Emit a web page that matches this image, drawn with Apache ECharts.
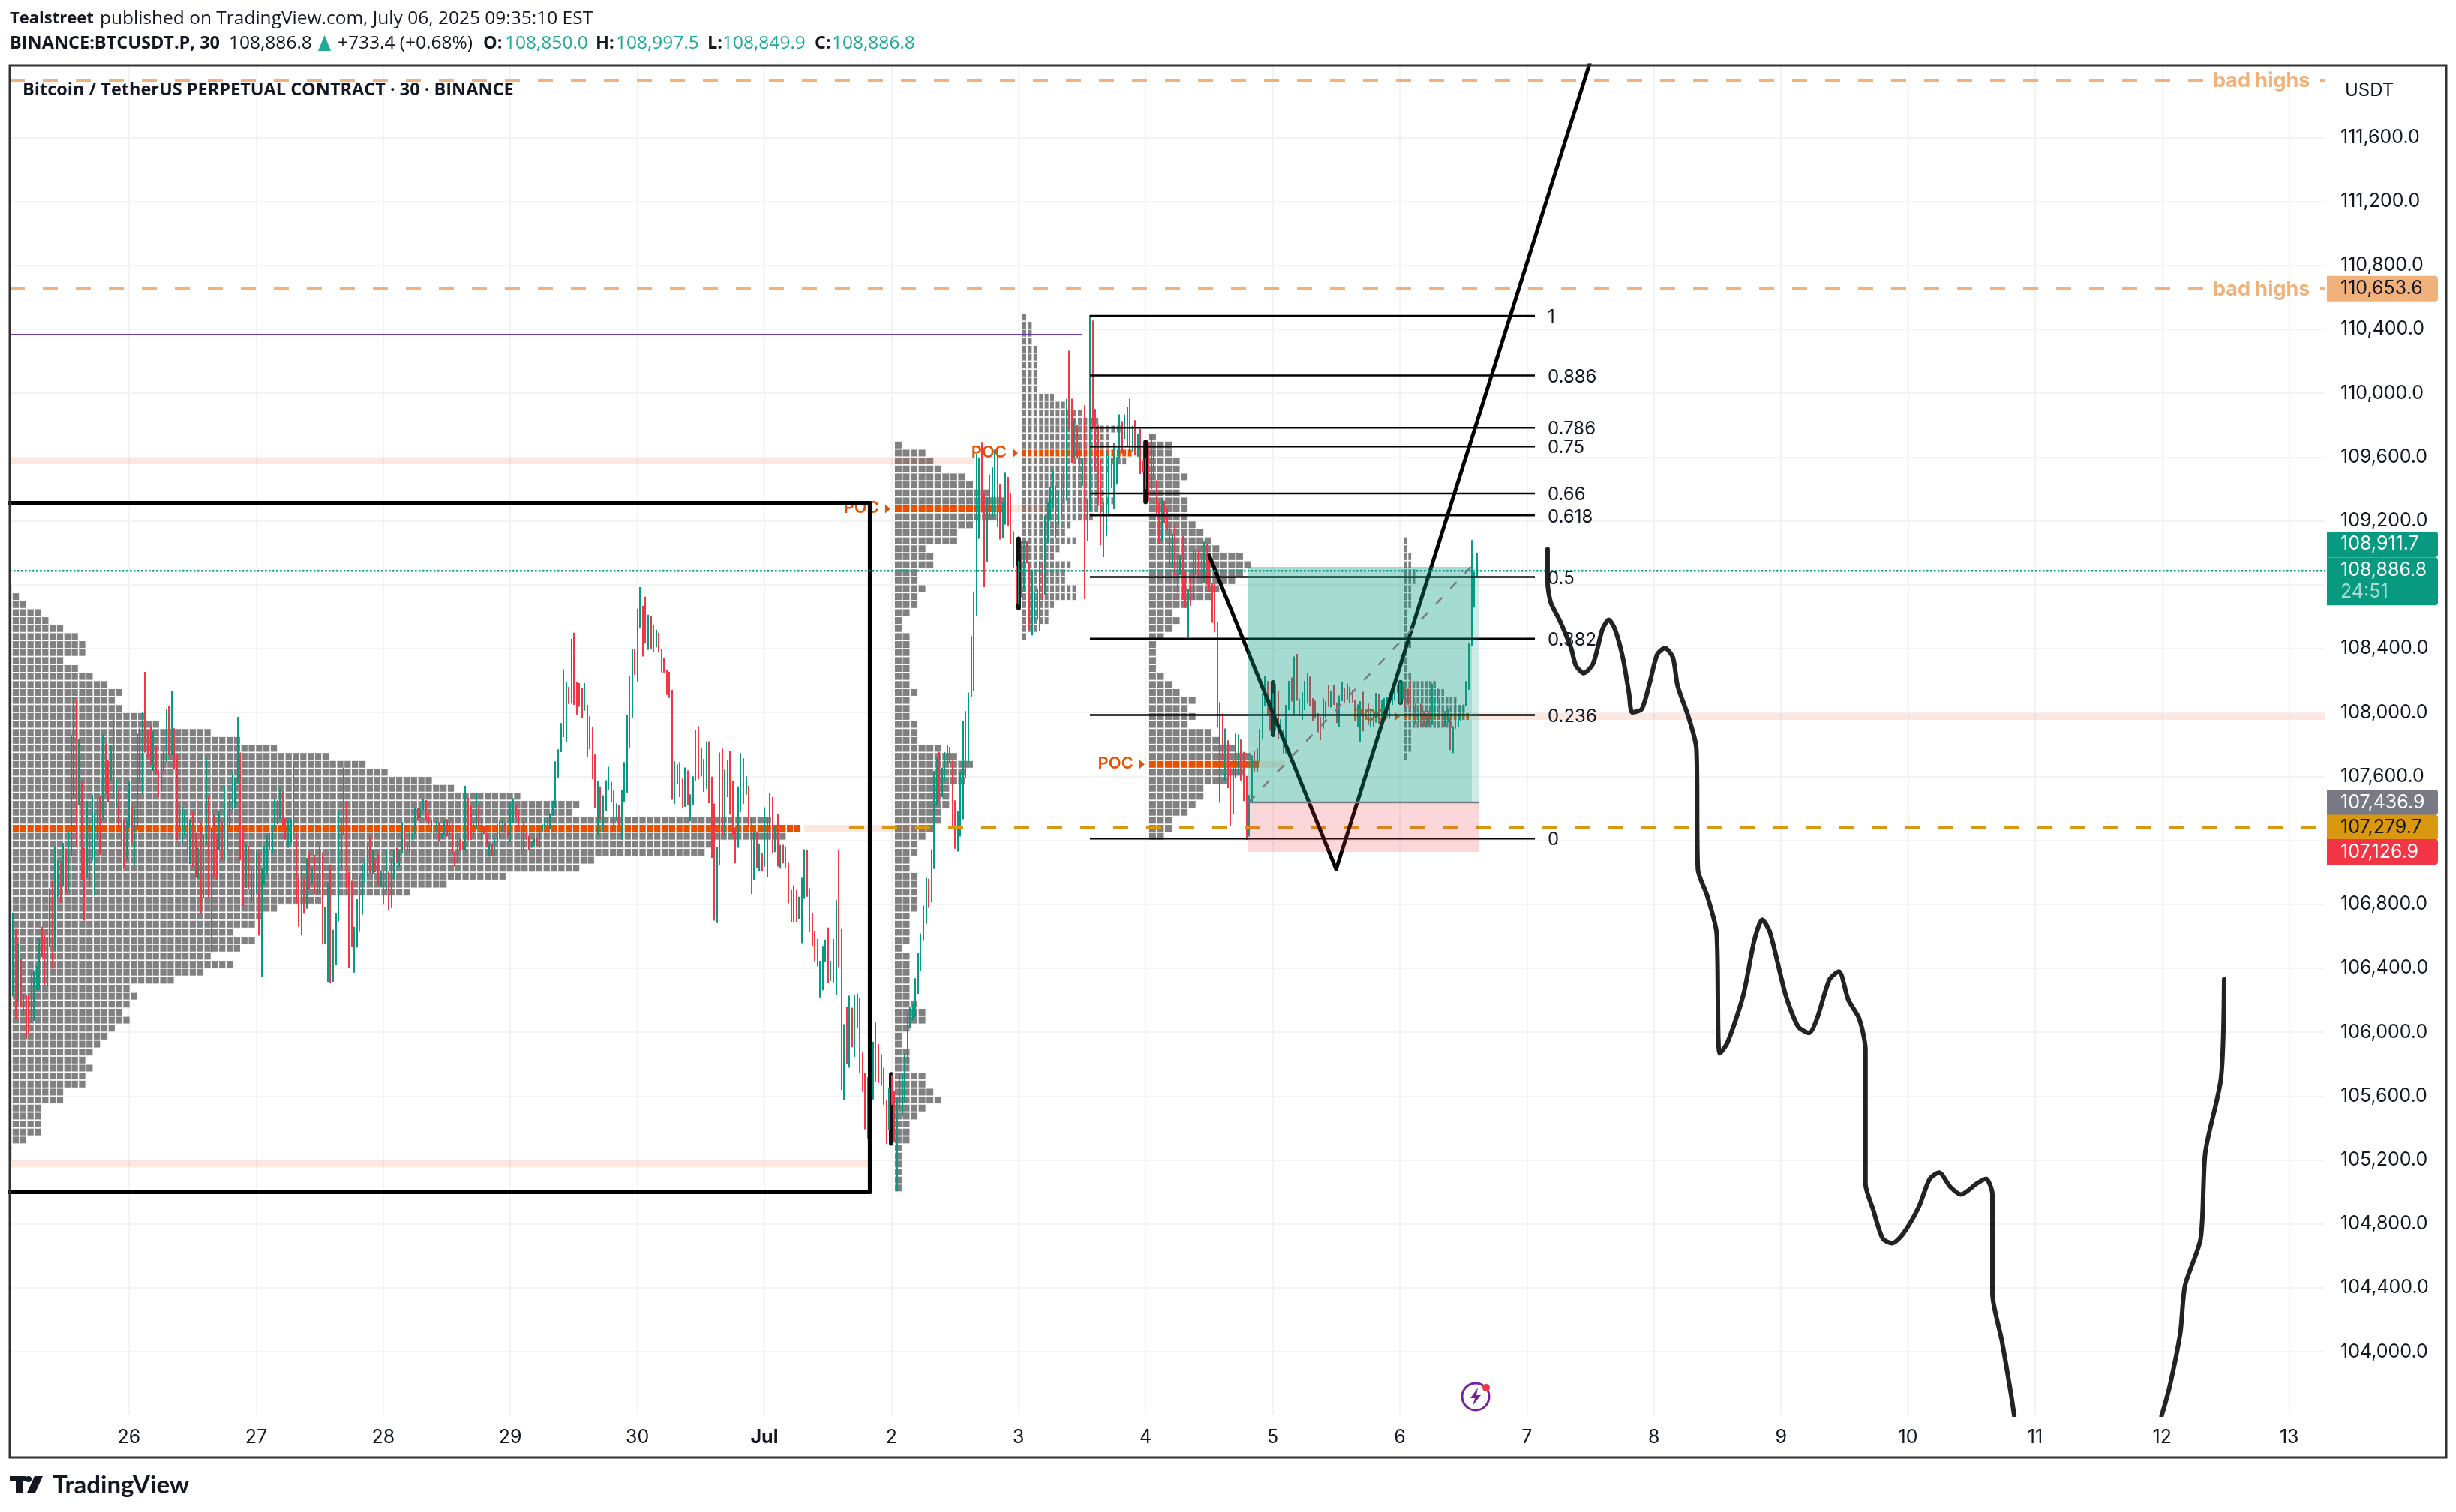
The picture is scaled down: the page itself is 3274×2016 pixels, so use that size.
<!DOCTYPE html>
<html>
<head>
<meta charset="utf-8">
<style>html,body{margin:0;padding:0;background:#fff}#main{width:3274px;height:2016px}</style>
<script src="https://cdn.jsdelivr.net/npm/echarts@6/dist/echarts.min.js"></script>
</head>
<body>
<div id="main"></div>
<script>
// axis ticks (day 31 = Jul 1, 32 = Jul 2 ...)
var dayTicks = [26,27,28,29,30,31,32,33,34,35,36,37,38,39,40,41,42,43];
var dayLabels = ['26','27','28','29','30','Jul','2','3','4','5','6','7','8','9','10','11','12','13'];
var priceTicks = [104000,104400,104800,105200,105600,106000,106400,106800,107200,107600,108000,108400,108800,109200,109600,110000,110400,110800,111200,111600];

// 30 minute bars as [high, low, up]
var candleStart = 25.085;
var candleRows = [
[106748,106226,1],[106651,106085,0],[106553,106198,1],[106462,106160,0],[106235,106108,1],[106235,105958,0],[106235,105995,0],[106376,106061,1],[106384,106071,1],[106415,106263,1],
[106588,106263,1],[106659,106470,0],[106619,106287,0],[106596,106287,1],[106899,106536,1],[106946,106397,0],[107162,106505,1],[107077,106847,1],[107071,106811,0],[107184,106910,1],
[107148,106867,0],[107256,106881,1],[107859,107102,1],[108094,107474,1],[108081,107164,0],[107835,107423,1],[107572,106949,0],[107153,106698,0],[107448,106964,1],[107317,106913,0],
[107485,107074,1],[107372,106858,1],[107463,107200,1],[107476,107109,0],[107862,107328,1],[107804,107498,0],[107699,107438,0],[107796,107573,1],[107965,107459,0],[107579,107399,1],
[107514,107286,0],[107325,107164,0],[107333,107023,0],[107325,107077,1],[107570,107278,1],[107416,107187,0],[107408,107043,1],[107866,107262,1],[107901,107561,1],[108000,107498,1],
[108254,107749,0],[107887,107721,0],[107914,107673,0],[107887,107634,1],[107791,107615,0],[107639,107470,0],[107736,107506,1],[107757,107636,1],[108019,107691,1],[108041,107730,0],
[108136,107733,1],[107901,107642,0],[107736,107200,0],[107419,107239,0],[107411,107176,1],[107388,107234,1],[107346,107121,0],[107333,107051,1],[107380,107032,0],[107247,106965,0],
[107153,106957,1],[107313,106742,0],[107239,106839,1],[107721,107173,1],[107476,106836,0],[107278,106502,1],[107360,106968,0],[107239,106952,0],[107388,107137,1],[107322,107074,0],
[107540,107074,1],[107357,107137,1],[107495,107267,1],[107626,107391,1],[107592,107400,1],[107972,107557,1],[107749,107074,0],[107286,106789,0],[107176,106902,1],[107165,106894,0],
[107015,106820,1],[107004,106811,0],[107134,106867,1],[107129,106604,0],[107023,106343,1],[107165,106920,1],[107234,106988,1],[107244,107137,1],[107297,107118,1],[107459,107278,1],
[107451,107299,0],[107524,107333,1],[107506,107294,0],[107341,107204,0],[107336,107153,1],[107333,107184,1],[107686,107231,1],[107247,106800,0],[106972,106659,0],[107040,106611,1],
[106961,106740,0],[107090,106772,1],[107125,106894,0],
[107030,106925,1],[107109,106863,0],[106996,106863,1],[107165,106863,1],[107125,106549,0],[106784,106553,1],[106936,106315,1],[107048,106310,0],[106640,106315,1],[106742,106423,1],
[107379,106693,1],[107336,107024,0],[107655,107231,1],[107443,106899,0],[107004,106403,0],[106946,106533,0],[106659,106373,1],[106831,106528,1],[106968,106632,1],[107051,106734,1],
[107087,106938,1],[107184,106968,1],[107228,106996,0],[107142,106988,1],[107085,107000,0],[107114,106917,0],[107012,106905,1],[107008,106797,0],[107140,106886,1],[107004,106764,0],
[107082,106776,1],[107140,106957,1],[107153,107059,0],[107137,107032,1],[107313,107121,1],[107270,107137,0],[107184,107137,0],[107266,107126,1],[107247,107200,1],[107399,107239,1],
[107399,107322,0],[107399,107338,1],[107459,107388,1],[107451,107322,0],[107372,107299,0],[107325,107247,0],[107247,107212,0],[107322,107244,1],[107313,107192,0],[107244,107208,1],
[107328,107231,1],[107333,107223,0],[107305,107223,1],[107306,107125,0],[107129,107035,0],[107219,107059,1],[107208,107134,0],[107192,107142,0],[107540,107134,1],[107466,107200,0],
[107416,107204,0],[107318,107231,1],[107493,107266,1],[107419,107294,0],[107322,107200,0],[107289,107239,0],[107247,107156,0],[107184,107098,1],[107181,107102,0],[107212,107102,1],
[107302,107176,1],[107322,107208,0],[107322,107247,1],[107306,107247,0],[107255,107223,0],[107438,107192,1],[107463,107306,1],[107424,107346,0],[107377,107250,0],[107291,107110,0],
[107318,107140,1],[107250,107204,0],[107228,107137,0],[107192,107153,1],[107219,107168,1],[107219,107165,0],[107266,107153,1],[107299,107255,1],[107336,107275,1],[107344,107278,0],
[107369,107267,1],[107448,107354,1],[107694,107404,1],[107769,107587,1],[107934,107752,1],[108270,107845,1],[108193,107812,1],[108160,108052,0],[108461,108056,1],[108499,108047,0],
[108193,107987,0],[108183,108036,0],[108152,107968,0],[108183,108011,1],[108047,107722,0],[107976,107769,0],[107906,107581,0],[107736,107399,0],[107571,107234,1],[107537,107333,0],
[107482,107250,1],[107576,107385,1],
[107660,107514,1],[107565,107438,0],[107511,107294,0],[107430,107321,1],[107420,107294,0],[107514,107203,1],[107689,107438,1],[107984,107493,1],[108226,107776,1],[108400,107964,1],
[108395,108235,0],[108649,108194,1],[108784,108530,1],[108667,108350,0],[108725,108434,0],[108612,108392,1],[108601,108397,0],[108546,108376,0],[108518,108408,1],[108499,108376,0],
[108400,108251,0],[108342,108246,0],[108264,108110,0],[108254,108091,0],[108141,107454,0],[107694,107427,1],[107675,107550,0],[107689,107470,0],[107586,107399,0],[107655,107409,1],
[107638,107420,0],[107487,107318,1],[107600,107420,1],[107890,107569,1],[107914,107581,0],[107777,107600,1],[107708,107503,0],[107820,107522,1],[107820,107432,0],[107598,107090,0],
[107430,106698,0],[107156,106682,1],[107749,107043,1],[107773,107231,0],[107642,107231,1],[107702,107470,1],[107760,107361,0],[107572,107236,0],[107281,107056,0],[107537,107153,1],
[107746,107376,1],[107713,107427,0],[107600,107485,1],[107542,107294,0],[107341,106863,0],[107255,106952,1],[107255,107027,0],[107180,107009,1],[107121,107009,0],[107407,107035,1],
[107341,106972,1],[107495,107242,1],[107471,107117,0],[107286,107126,1],[107365,107035,0],[107172,107023,1],[107172,107056,0],[107161,107023,0],[107059,106805,0],[106889,106687,0],
[106918,106687,1],[106889,106687,0],[106847,106706,1],[106965,106557,1],[107143,106834,1],[107137,106847,0],[106899,106627,0],[106747,106539,0],[106634,106444,0],[106583,106411,0],
[106446,106218,1],[106539,106262,1],[106579,106440,1],[106654,106308,0],[106446,106321,1],[106583,106311,1],[106826,106232,1],[107139,106407,0],[106644,105638,0],[106050,105575,1],
[106159,105800,0],[106228,105777,1],[106153,105905,0],[106236,105846,1],[106242,106024,1],[106216,105743,0],[105872,105626,0],[105747,105392,0],[105717,105331,0],[105717,105400,0],
[105941,105579,1],[106060,105688,1],[105925,105682,0],[105862,105664,0],[105777,105545,0],[105573,105301,0],[105652,105387,1],[105731,105545,0],[105632,105311,0],[105589,105004,1],
[105743,105525,1],[105741,105476,1],[105866,105555,1],[106127,105806,1],[106159,106024,1],[106179,106074,1],[106337,106094,1],[106494,106240,1],[106618,106381,1],[106791,106575,1],
[106965,106678,1],[106959,106777,0],[107143,106811,1],[107633,107020,1],[107718,107415,1],[107753,107444,0],[107654,107470,1],[107751,107565,1],[107797,107678,1],[107783,107684,0],
[107698,107288,0],[107450,107147,0],[107381,107129,1],[107629,107223,1],[107945,107331,1],[108009,107593,1],[108125,107684,1],[108478,108094,1],[108757,108133,1],[109620,108604,1],
[109595,109087,1],[109694,109252,0],[109368,108784,0],[109349,108941,1],[109490,109208,1],[109534,109215,1],[109647,109231,1],[109647,109161,0],[109430,109082,0],[109317,109090,1],
[109501,109176,1],[109474,109168,0],[109372,109054,0],[109134,108905,0],[108917,108682,0],[108949,108674,1],[109074,108721,1],[109074,108760,1],[109071,108933,0],[108933,108517,0],
[108894,108483,1],[108753,108572,1],[108776,108580,0],[108949,108510,1],[108944,108706,0],[109231,108737,1],[109317,109059,1],[109411,109200,1],[109518,109286,1],[109419,109095,0],
[109388,109176,1],[109498,109231,1],[109534,109321,0],[109965,109325,1],[110266,109772,0],[109965,109561,0],[109835,109592,1],[109801,109589,0],[109686,109540,0],[109595,109419,1],
[109924,108709,0],[109336,109074,1],[110489,109262,1],[110455,109788,0],[109901,109506,0],[109804,109294,0],[109581,109046,0],[109320,108972,1],[109639,109102,1],[109615,109231,1],
[109592,109404,1],[109686,109273,1],[109600,109427,1],[109866,109589,1],[109824,109623,0],[109866,109714,1],[109914,109663,1],[109965,109634,0],[109796,109631,1],[109830,109615,0],
[109744,109603,1],[109777,109493,0],[109576,109502,0],[109592,109399,0],[109694,109325,0],[109733,109399,1],[109663,109455,0],
[109455,109241,0],[109313,109052,0],[109339,109070,1],[109325,109185,0],[109284,109142,0],[109168,108903,0],[109120,108903,1],[109171,108860,0],[108988,108749,0],[108988,108860,1],
[109105,108706,0],[108886,108655,0],[108774,108467,1],[108843,108668,0],[109010,108706,1],[109022,108860,0],[109017,108851,0],[109000,108809,0],[109070,108809,1],[109057,108800,0],
[108980,108754,0],[108809,108561,0],[108812,108501,0],[108569,107911,0],[108065,107435,1],[107993,107697,0],[107899,107574,1],[107825,107526,0],[107654,107290,0],[107705,107367,1],
[107868,107586,1],[107863,107611,1],[107830,107574,0],[107753,107445,0],[107603,107204,0],[107483,107223,1],[107731,107435,1],[107760,107628,0],[107774,107628,1],[107897,107692,1],
[108121,107830,1],[108230,108039,1],[108196,107984,0],[108082,107885,0],[108120,107990,1],[108179,107885,1],[108133,107830,0],[107957,107844,1],[107893,107745,0],[108047,107745,1],
[108198,108013,1],[108219,108068,0],[108350,107984,1],[108367,108073,0],[108087,107984,0],[108125,107953,1],[108198,108013,1],[108248,108056,1],[108224,108039,0],[108090,107945,0],
[108073,107962,0],[107996,107876,0],[107972,107827,0],
[108089,107898,1],[108071,107968,1],[108169,108034,0],[108136,108031,1],[108173,108047,0],[108063,107933,0],[108106,107906,1],[108191,108071,1],[108154,108060,0],[108180,108078,1],
[108160,108060,1],[108141,108063,0],[108078,107969,0],[108050,107906,1],[108071,107812,1],[108130,107882,0],[108024,107953,1],[108055,107922,0],[108024,107906,1],[107992,107906,0],
[108122,107937,1],[108113,107929,0],[108078,107961,1],[108091,107969,1],[108097,107984,1],[108060,107960,0],[108149,108047,1],[108149,108078,1],[108169,108122,0],[108191,108063,1],
[108188,108078,1],[108157,108031,0],[108149,108047,0],[108212,108008,0],[108102,107937,0],[108055,107929,0],[108019,107937,1],[108055,107906,0],[108008,107906,0],[107972,107906,1],
[108008,107914,0],[108180,107922,1],[108094,107984,1],[108149,108055,1],[108078,107953,0],[108008,107909,0],[108008,107906,1],[108024,107937,1],[107969,107765,0],[107914,107746,1],
[108086,107898,1],[107992,107906,1],[108047,107945,1],[108050,107984,1],[108196,108039,1],[108436,108141,1],[109079,108416,1],[108878,108656,1],[108997,108850,1]
];

// volume profile rows, top row price then cell count per 50 USD row going down
var profile1Top = 108775, profile1Poc = 107275;
var profile1Counts = [1,2,3,5,6,8,10,11,11,8,10,12,14,16,15,16,19,21,28,32,37,44,49,52,58,61,70,78,77,104,108,106,96,95,80,78,68,60,55,43,37,35,34,31,34,32,28,31,27,23,17,18,17,16,17,15,14,13,12,11,12,11,11,8,8,5,5,5,5,3,1,1];
var profile2Top = 109675, profile2Poc = 109275;
var profile2Counts = [1,4,5,6,9,10,12,14,14,13,10,8,8,4,5,5,3,3,4,3,3,2,1,1,2,2,2,2,2,2,2,3,2,2,2,3,3,3,6,8,10,9,9,7,7,7,6,6,5,4,3,3,2,2,3,3,3,3,3,2,2,2,2,1,2,2,2,2,2,2,3,4,4,2,1,1,2,2,2,4,4,5,6,4,3,2,2,2,1,1,1,1,1,1];
var profile3Top = 110475, profile3Poc = 109625;
var profile3Counts = [1,2,2,2,3,3,3,3,3,3,6,8,11,14,18,16,16,20,19,16,15,15,15,17,15,13,9,8,10,7,6,9,8,8,10,10,6,5,5,3,1];
var profile4Top = 109725, profile4Poc = 107675;
var profile4Counts = [1,3,3,4,4,5,4,4,5,5,5,6,7,8,9,12,13,12,11,9,8,5,3,4,3,2,1,1,1,1,2,3,4,6,5,6,5,8,9,11,13,14,12,10,7,7,6,5,3,3,2];
var profile5Top = 109075, profile5Poc = 107975;
var profile5Counts = [1,1,2,2,3,3,2,2,2,1,1,1,1,2,1,1,1,2,8,10,13,15,16,12,2,2,2,1];

// fibonacci levels
var fibRatios = [1,0.886,0.786,0.75,0.66,0.618,0.5,0.382,0.236,0];
var fibHigh = 110484, fibLow = 107211, fibFrom = 33.562, fibTo = 37.063;

// price levels
var lastPrice = 108886.8, targetPrice = 108911.7, entryPrice = 107436.9, stopPrice = 107126.9, markPrice = 107279.7;
var badHighs = [111958, 110653.6];
var purpleLevel = 110366;

// extended POC strips as [from day, to day, price]
var stripRows = [[25.06,32.647,109575],[31.313,32.322,107275],[25.06,31.815,105175],[32.877,33.22,109275],[33.898,34.016,109625],[34.878,35.097,107675],[36.567,43.285,107975]];

// hand drawn strokes
var bigBox = [[25,109310],[31.832,109310],[31.832,105000],[25,105000]];
var straightPath = [[34.5,108983],[35.499,107018],[37.496,112068]];
var curveA = [[37.163,109022],[37.163,108816],[37.188,108688],[37.262,108570],[37.348,108403],[37.385,108295],[37.447,108246],[37.521,108305],[37.595,108521],[37.644,108580],[37.693,108521],[37.755,108344],[37.804,108118],[37.829,108000],[37.903,108020],[37.964,108177],[38.026,108364],[38.087,108403],[38.149,108344],[38.186,108167],[38.272,107971],[38.334,107774],[38.346,107017],[38.42,106850],[38.494,106615],[38.506,105986],[38.519,105868],[38.58,105937],[38.703,106231],[38.79,106575],[38.852,106703],[38.913,106625],[39.037,106231],[39.135,106035],[39.221,105995],[39.283,106084],[39.382,106330],[39.456,106379],[39.53,106202],[39.616,106084],[39.665,105888],[39.665,105052],[39.727,104885],[39.801,104708],[39.875,104679],[39.961,104738],[40.084,104905],[40.171,105082],[40.245,105121],[40.331,105033],[40.417,104984],[40.54,105052],[40.614,105082],[40.664,104984],[40.664,104365],[40.738,104070],[40.812,103726],[40.836,103598]];
var curveB = [[41.995,103598],[42.057,103775],[42.143,104119],[42.18,104414],[42.303,104708],[42.34,105249],[42.463,105711],[42.488,106330]];
var strokeRows = [[33.001,109087,33.001,108654],[34.0,109694,34.0,109318],[31.998,105736,31.998,105303],[35.002,108188,35.002,107859],[36.006,108188,36.006,108061]];

var green = '#089981', red = '#f23645', gray = '#808080', orange = '#e65100', peach = '#f0b27a', gold = '#d9980f';
var uiFont = 'Inter, Roboto, sans-serif', headFont = '"Open Sans", "Noto Sans", sans-serif';

function fmt(v){
  return v.toLocaleString('en-US',{minimumFractionDigits:1,maximumFractionDigits:1});
}

function segmentSeries(rows, style, z){
  return {
    type:'custom', coordinateSystem:'cartesian2d', z:z, silent:true, clip:true, animation:false,
    encode:{x:0,y:1}, data:rows,
    renderItem:function(params,api){
      var a = api.coord([api.value(0),api.value(1)]), b = api.coord([api.value(2),api.value(3)]);
      return {type:'line',shape:{x1:a[0],y1:a[1],x2:b[0],y2:b[1]},style:style};
    }
  };
}
function rectSeries(rows, fill, z){
  return {
    type:'custom', coordinateSystem:'cartesian2d', z:z, silent:true, clip:true, animation:false,
    encode:{x:0,y:2}, data:rows,
    renderItem:function(params,api){
      var a = api.coord([api.value(0),api.value(2)]), b = api.coord([api.value(1),api.value(3)]);
      return {type:'rect',shape:{x:a[0],y:a[1],width:b[0]-a[0],height:b[1]-a[1]},style:{fill:fill}};
    }
  };
}
function lineStroke(rows, color, width, smooth, z){
  return {type:'line',data:rows,showSymbol:false,smooth:smooth,z:z,silent:true,animation:false,clip:true,
    lineStyle:{color:color,width:width,cap:'round',join:'round'}};
}

// profiles
var profiles = [
  {start:25.026,top:profile1Top,poc:profile1Poc,counts:profile1Counts,pitch:9.83,w:8.3},
  {start:32.027,top:profile2Top,poc:profile2Poc,counts:profile2Counts,pitch:10.56,w:9},
  {start:33.031,top:profile3Top,poc:profile3Poc,counts:profile3Counts,pitch:7.4,w:5},
  {start:34.028,top:profile4Top,poc:profile4Poc,counts:profile4Counts,pitch:10.55,w:9},
  {start:36.035,top:profile5Top,poc:profile5Poc,counts:profile5Counts,pitch:5.5,w:3.6}
];
var profileSeries = profiles.map(function(p){
  return {
    type:'custom', coordinateSystem:'cartesian2d', z:3, silent:true, clip:true, animation:false,
    encode:{x:0,y:1},
    data:p.counts.map(function(c,i){ return [p.start, p.top-i*50, c]; }),
    renderItem:function(params,api){
      var o = api.coord([api.value(0),api.value(1)]), n = api.value(2), price = api.value(1), kids = [];
      for (var j=0;j<n;j++){
        kids.push({type:'rect',shape:{x:o[0]+j*p.pitch,y:o[1]-4.5,width:p.w,height:9},
          style:{fill:price===p.poc?orange:gray}});
      }
      return {type:'group',children:kids};
    }
  };
});

var pocSeries = {
  type:'custom', coordinateSystem:'cartesian2d', z:6, silent:true, animation:false, encode:{x:0,y:1},
  data:profiles.slice(1).map(function(p){ return [p.start,p.poc]; }),
  renderItem:function(params,api){
    var o = api.coord([api.value(0),api.value(1)]);
    return {type:'group',children:[
      {type:'text',style:{x:o[0]-21,y:o[1]-1,text:'POC',fill:orange,font:'600 22px '+uiFont,align:'right',verticalAlign:'middle'}},
      {type:'polygon',shape:{points:[[o[0]-13,o[1]-6],[o[0]-6,o[1]],[o[0]-13,o[1]+6]]},style:{fill:orange}}
    ]};
  }
};

var candleSeries = {
  type:'custom', coordinateSystem:'cartesian2d', z:6, silent:true, clip:true, animation:false,
  encode:{x:0,y:1},
  data:candleRows.map(function(r,i){ return [candleStart+i/48, r[0], r[1], r[2]]; }),
  renderItem:function(params,api){
    var a = api.coord([api.value(0),api.value(1)]), b = api.coord([api.value(0),api.value(2)]);
    return {type:'rect',shape:{x:Math.round(a[0])-1,y:a[1],width:2,height:b[1]-a[1]},
      style:{fill:api.value(3)?green:red}};
  }
};

var fibRows = fibRatios.map(function(r){
  var p = fibLow+(fibHigh-fibLow)*r;
  return [fibFrom,p,fibTo,p];
});
var fibLabelSeries = {
  type:'custom', coordinateSystem:'cartesian2d', z:10, silent:true, animation:false, encode:{x:0,y:1},
  data:fibRows.map(function(r){ return [fibTo,r[1]]; }),
  renderItem:function(params,api){
    var o = api.coord([api.value(0),api.value(1)]);
    return {type:'text',style:{x:o[0]+17,y:o[1]+2,text:String(fibRatios[params.dataIndex]),fill:'#131722',font:'24px '+uiFont,verticalAlign:'middle'}};
  }
};

// right hand price tags
var tagPrices = [110653.6,targetPrice,lastPrice,entryPrice,markPrice,stopPrice];
var tagFills = [peach,green,green,'#787b86',gold,red];
var tagInks = ['#131722','#ffffff','#ffffff','#ffffff','#131722','#ffffff'];
var tagSeries = {
  type:'custom', coordinateSystem:'cartesian2d', z:12, silent:true, animation:false, clip:false, encode:{y:1},
  data:tagPrices.map(function(v){ return [43,v]; }),
  renderItem:function(params,api){
    var i = params.dataIndex, y = api.coord([43,api.value(1)])[1];
    var dy = i===1 ? -30 : 0, h = i===2 ? 64 : 34, top = y+dy-17;
    if (i===2) top = y-18;
    var kids = [
      {type:'rect',shape:{x:3102,y:top,width:148,height:h,r:[0,4,4,0]},style:{fill:tagFills[i]}},
      {type:'text',style:{x:3120,y:top+17,text:fmt(tagPrices[i]),fill:tagInks[i],font:'25px '+uiFont,verticalAlign:'middle'}}
    ];
    if (i===2) kids.push({type:'text',style:{x:3120,y:top+46,text:'24:51',fill:'#a8dbd3',font:'25px '+uiFont,verticalAlign:'middle'}});
    return {type:'group',children:kids};
  }
};

var badHighSeries = {
  type:'custom', coordinateSystem:'cartesian2d', z:9, silent:true, animation:false, encode:{y:1},
  data:badHighs.map(function(v){ return [42,v]; }),
  renderItem:function(params,api){
    var y = api.coord([42,api.value(1)])[1];
    return {type:'group',children:[
      {type:'rect',shape:{x:2942,y:y-14,width:150,height:28},style:{fill:'#ffffff'}},
      {type:'text',style:{x:2950,y:y+1,text:'bad highs',fill:peach,font:'700 27px '+uiFont,verticalAlign:'middle'}}
    ]};
  }
};

function headText(x,y,text,fill,weight,size){
  return {type:'text',x:x,y:y,z:20,silent:true,style:{text:text,fill:fill,font:(weight||'400')+' '+(size||24)+'px '+headFont,verticalAlign:'middle'}};
}

var myChart = echarts.init(document.getElementById('main'),null,{renderer:'canvas',width:3274,height:2016});
var option = {
  animation:false,
  backgroundColor:'#ffffff',
  grid:{left:13,right:174,top:87,bottom:130},
  xAxis:{
    type:'value',min:25.0614,max:43.285,
    axisLine:{show:false},
    axisTick:{show:false,customValues:dayTicks},
    splitLine:{show:true,customValues:dayTicks,lineStyle:{color:'#f3f3f4',width:2}},
    axisLabel:{
      customValues:dayTicks,margin:18,color:'#131722',fontFamily:'Inter, Roboto, sans-serif',fontSize:25,
      formatter:function(v){
        var s = dayLabels[dayTicks.indexOf(v)];
        return s==='Jul' ? '{b|Jul}' : s;
      },
      rich:{b:{fontWeight:700,fontSize:25,fontFamily:'Inter, Roboto, sans-serif',color:'#131722'}}
    }
  },
  yAxis:{
    type:'value',position:'right',min:103606,max:112052,
    axisLine:{show:false},
    axisTick:{show:false,customValues:priceTicks},
    splitLine:{show:true,customValues:priceTicks,lineStyle:{color:'#f3f3f4',width:2}},
    axisLabel:{
      customValues:priceTicks,margin:20,color:'#131722',fontFamily:'Inter, Roboto, sans-serif',fontSize:25,
      formatter:function(v){ return fmt(v); }
    }
  },
  graphic:[
    {type:'rect',z:21,silent:true,shape:{x:13,y:87,width:3248,height:1856},style:{fill:null,stroke:'#333333',lineWidth:3}},
    headText(13,25,'Tealstreet','#131722','700',22),
    headText(133,25,'published on TradingView.com, July 06, 2025 09:35:10 EST','#131722','400',24.5),
    headText(13,58,'BINANCE:BTCUSDT.P, 30','#131722','700',23.5),
    headText(305,58,'108,886.8','#131722','400',24.5),
    {type:'polygon',z:20,silent:true,shape:{points:[[424,68],[441,68],[432.5,47]]},style:{fill:'#22ab94'}},
    headText(450,58,'+733.4 (+0.68%)','#131722','400',24.5),
    headText(644,58,'O:','#131722','700',23.5),
    headText(673,58,'108,850.0','#22ab94','400',24.5),
    headText(794,58,'H:','#131722','700',23.5),
    headText(821,58,'108,997.5','#22ab94','400',24.5),
    headText(943,58,'L:','#131722','700',23.5),
    headText(963,58,'108,849.9','#22ab94','400',24.5),
    headText(1086,58,'C:','#131722','700',23.5),
    headText(1109,58,'108,886.8','#22ab94','400',24.5),
    headText(30,120,'Bitcoin / TetherUS PERPETUAL CONTRACT · 30 · BINANCE','#131722','700',23.5),
    {type:'text',x:3126,y:121,z:20,silent:true,style:{text:'USDT',fill:'#131722',font:'24px '+uiFont,verticalAlign:'middle'}},
    // TradingView mark
    {type:'rect',z:20,silent:true,shape:{x:13,y:1968,width:21,height:7},style:{fill:'#131722'}},
    {type:'rect',z:20,silent:true,shape:{x:21,y:1968,width:9,height:22},style:{fill:'#131722'}},
    {type:'circle',z:20,silent:true,shape:{cx:38,cy:1972,r:4},style:{fill:'#131722'}},
    {type:'polygon',z:20,silent:true,shape:{points:[[46,1968],[57,1968],[47,1990],[36,1990]]},style:{fill:'#131722'}},
    {type:'text',x:70,y:1980,z:20,silent:true,style:{text:'TradingView',fill:'#131722',font:'700 33px Lato, '+uiFont,verticalAlign:'middle'}},
    // flash icon near the last bar
    {type:'circle',z:15,silent:true,shape:{cx:1967,cy:1862,r:18},style:{fill:'#ffffff',stroke:'#7b1fa2',lineWidth:3}},
    {type:'polygon',z:16,silent:true,shape:{points:[[1970,1850],[1960,1864],[1966,1864],[1963,1874],[1974,1860],[1968,1860]]},style:{fill:'#7b1fa2'}},
    {type:'circle',z:16,silent:true,shape:{cx:1981,cy:1850,r:5},style:{fill:'#f23645'}}
  ],
  series:[].concat(profileSeries,[
    {
      type:'custom',coordinateSystem:'cartesian2d',z:4,silent:true,clip:true,animation:false,encode:{x:0,y:2},
      data:stripRows,
      renderItem:function(params,api){
        var a = api.coord([api.value(0),api.value(2)]), b = api.coord([api.value(1),api.value(2)]);
        return {type:'rect',shape:{x:a[0],y:a[1]-4.5,width:b[0]-a[0],height:9},style:{fill:'rgba(230,81,0,0.13)'}};
      }
    },
    segmentSeries(strokeRows,{stroke:'#111111',lineWidth:6,lineCap:'round'},5),
    candleSeries,
    pocSeries,
    segmentSeries(fibRows,{stroke:'#000000',lineWidth:2.5},7),
    segmentSeries([[25.06,purpleLevel,33.5,purpleLevel]],{stroke:'#673ab7',lineWidth:2},7),
    segmentSeries([[31.667,markPrice,43.21,markPrice]],{stroke:gold,lineWidth:4,lineDash:[20,24]},7),
    segmentSeries(badHighs.map(function(v){ return [25.0614,v,43.285,v]; }),{stroke:peach,lineWidth:4,lineDash:[20,24]},7),
    lineStroke(straightPath,'#000000',5,false,7),
    lineStroke(bigBox,'#000000',6,false,7),
    rectSeries([[34.802,36.626,targetPrice,entryPrice],[34.802,36.567,targetPrice,entryPrice]],'rgba(8,153,129,0.2)',8),
    rectSeries([[34.802,36.626,entryPrice,stopPrice]],'rgba(242,54,69,0.2)',8),
    segmentSeries([[34.802,entryPrice,36.626,entryPrice]],{stroke:'#787b86',lineWidth:2.5},9),
    segmentSeries([[34.81,entryPrice,36.56,targetPrice]],{stroke:'#787b86',lineWidth:2.5,lineDash:[12,16]},9),
    segmentSeries([[25.0614,lastPrice,43.285,lastPrice]],{stroke:green,lineWidth:2.5,lineDash:[2.5,2.5]},9),
    lineStroke(curveA,'#222222',6,0.25,9),
    lineStroke(curveB,'#222222',6,0.25,9),
    badHighSeries,
    fibLabelSeries,
    tagSeries
  ])
};
myChart.setOption(option);
</script>
</body>
</html>
